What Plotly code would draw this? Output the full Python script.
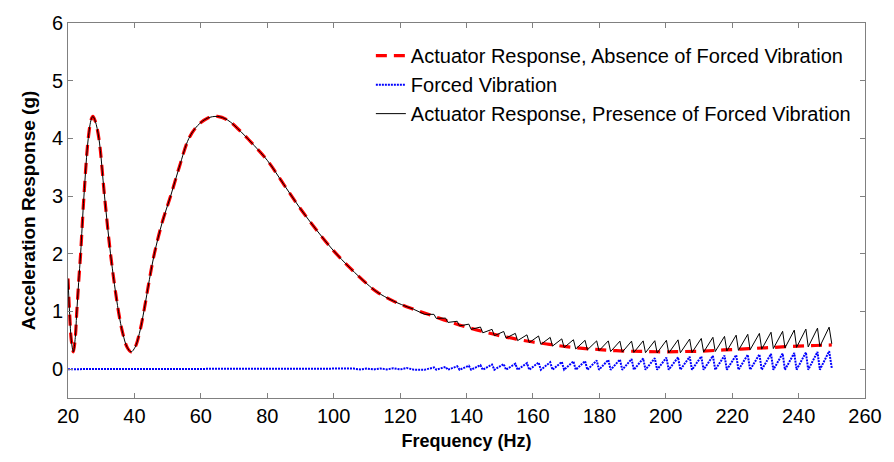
import plotly.graph_objs as go

# actuator response without forced vibration (smooth curve)
freq = [20, 20.5, 21, 21.6, 22.2, 22.6, 23.2, 23.8, 24.8, 26.1, 27, 27.5, 28.2, 29.3, 31, 32.8, 35.2,
        36.5, 37.8, 39, 40.2, 41.5, 43, 44.5, 46, 48.4, 50.9, 53.5, 56.4, 59, 62, 65, 68, 72, 76, 80,
        85, 90, 95, 100, 105, 110, 113, 118, 124, 130, 135, 140, 145, 150, 155, 160, 165, 170, 175,
        180, 185, 190, 195, 200, 205, 210, 215, 220, 225, 230, 235, 240, 245, 250]
resp_absent = [1.57, 0.95, 0.5, 0.3, 0.55, 0.95, 1.5, 2.0, 3.0, 4.0, 4.33, 4.38, 4.3, 4.0, 3.0, 2.0, 1.0,
               0.62, 0.38, 0.3, 0.38, 0.62, 1.05, 1.55, 2.0, 2.55, 3.0, 3.5, 4.0, 4.22, 4.35, 4.38, 4.32, 4.12, 3.88, 3.62,
               3.2, 2.78, 2.4, 2.05, 1.75, 1.48, 1.34, 1.18, 1.04, 0.92, 0.82, 0.73, 0.65, 0.58, 0.52, 0.47, 0.43, 0.39, 0.36,
               0.34, 0.32, 0.31, 0.305, 0.30, 0.305, 0.31, 0.325, 0.34, 0.355, 0.37, 0.385, 0.40, 0.41, 0.42]
N_SMOOTH = 45  # points up to 124 Hz, black follows red there

# sawtooth region (troughs / peaks)
freq_saw = [124, 127.4, 130.2, 130.9, 133.7, 134.4, 137.2, 137.9, 140.7, 141.4, 144.2, 144.9, 147.7,
            148.4, 151.2, 151.9, 154.7, 155.4, 158.2, 158.9, 161.7, 162.4, 165.2, 165.9, 168.7,
            169.4, 172.2, 172.9, 175.7, 176.4, 179.2, 179.9, 182.7, 183.4, 186.2, 186.9, 189.7,
            190.4, 193.2, 193.9, 196.7, 197.4, 200.2, 200.9, 203.7, 204.4, 207.2, 207.9, 210.7,
            211.4, 214.2, 214.9, 217.7, 218.4, 221.2, 221.9, 224.7, 225.4, 228.2, 228.9, 231.7,
            232.4, 235.2, 235.9, 238.7, 239.4, 242.2, 242.9, 245.7, 246.4, 249.2, 250]
resp_present = [1.04, 0.95, 0.95, 0.88, 0.885, 0.81, 0.83, 0.75, 0.78, 0.69, 0.73, 0.63, 0.69,
                0.58, 0.653, 0.54, 0.62, 0.495, 0.595, 0.46, 0.575, 0.43, 0.55, 0.40, 0.525,
                0.375, 0.51, 0.35, 0.50, 0.335, 0.49, 0.32, 0.49, 0.305, 0.485, 0.295, 0.485,
                0.29, 0.49, 0.285, 0.493, 0.282, 0.50, 0.28, 0.508, 0.284, 0.522, 0.288, 0.532,
                0.295, 0.552, 0.305, 0.568, 0.315, 0.589, 0.326, 0.604, 0.336, 0.62, 0.347, 0.64,
                0.357, 0.656, 0.368, 0.677, 0.378, 0.694, 0.386, 0.711, 0.393, 0.728, 0.44]

# forced vibration
freq_fv = [20, 40, 60, 80, 100, 104, 106, 108, 110, 112, 114, 116, 118, 120, 122, 124] + freq_saw[1:]
forced_vib = [0.0, 0.0, 0.0, 0.0, 0.005, 0.0, 0.01, -0.005, 0.01, -0.005, 0.012, -0.005, 0.015, -0.005, 0.02, -0.008,
              -0.01, 0.03, -0.01, 0.04, -0.01, 0.05, -0.01, 0.06, -0.01, 0.07, -0.01, 0.08,
              -0.01, 0.088, -0.01, 0.095, -0.01, 0.105, -0.01, 0.115, -0.01, 0.12, -0.01, 0.125,
              -0.01, 0.135, -0.01, 0.14, -0.01, 0.15, -0.01, 0.16, -0.01, 0.165, -0.01, 0.175,
              -0.01, 0.185, -0.01, 0.19, -0.01, 0.2, -0.01, 0.205, -0.01, 0.215, -0.01, 0.22,
              -0.01, 0.23, -0.01, 0.235, -0.01, 0.245, -0.01, 0.25, -0.01, 0.255, -0.01, 0.265,
              -0.01, 0.27, -0.01, 0.28, -0.01, 0.29, -0.01, 0.30, -0.01, 0.31, 0.02]

FONT = 'Liberation Sans, Arial, sans-serif'

trace = [
    go.Scatter(x=freq, y=resp_absent, mode='lines', line_shape='spline',
               name='Actuator Response, Absence of Forced Vibration',
               line=dict(color='#ff0000', width=3.2, dash='11px,7px')),
    go.Scatter(x=freq_fv, y=forced_vib, mode='lines', name='Forced Vibration',
               line=dict(color='#0000ff', width=2, dash='2px,1px')),
    go.Scatter(x=freq[:N_SMOOTH], y=resp_absent[:N_SMOOTH], mode='lines', line_shape='spline',
               legendgroup='present', showlegend=False,
               line=dict(color='#000000', width=1)),
    go.Scatter(x=freq_saw, y=resp_present, mode='lines', legendgroup='present',
               name='Actuator Response, Presence of Forced Vibration',
               line=dict(color='#000000', width=1)),
]

axis_style = dict(showline=True, mirror='ticks', linecolor='#808080', linewidth=1,
                  ticks='inside', ticklen=5, tickcolor='#808080', showgrid=False,
                  zeroline=False, tickfont=dict(family=FONT, size=20, color='black'))

layout = go.Layout(
    width=894, height=462,
    paper_bgcolor='white', plot_bgcolor='white',
    margin=dict(l=68, r=20, t=21, b=64),
    xaxis=dict(range=[20, 260], dtick=20, tick0=20,
               title=dict(text='<b>Frequency (Hz)</b>', font=dict(family=FONT, size=18, color='black'), standoff=8),
               **axis_style),
    yaxis=dict(range=[-0.5, 6], dtick=1, tick0=0,
               title=dict(text='<b>Acceleration Response (g)</b>', font=dict(family=FONT, size=19, color='black'), standoff=11),
               **axis_style),
    legend=dict(x=0.38, y=0.965, xanchor='left', yanchor='top', bgcolor='rgba(0,0,0,0)',
                font=dict(family=FONT, size=20, color='black'), tracegroupgap=0,
                itemwidth=30),
    showlegend=True,
)

fig = go.Figure(data=trace, layout=layout)
fig.write_html("out.html", config={'displayModeBar': False},
               post_script="document.body.style.margin='0';")
